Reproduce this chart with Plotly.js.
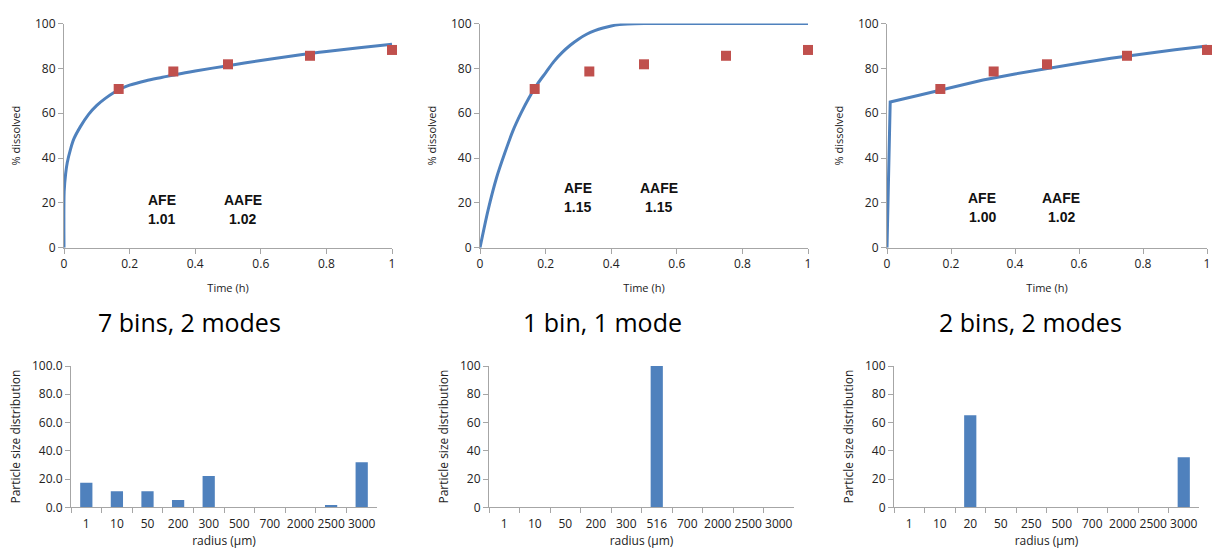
<!DOCTYPE html>
<html>
<head>
<meta charset="utf-8">
<script src="https://cdn.plot.ly/plotly-3.0.1.min.js"></script>
<style>html,body{margin:0;padding:0;background:#fff;}#chart{width:1215px;height:549px;}</style>
</head>
<body>
<div id="chart"></div>
<script>
// Observed dissolution data (same in all three panels)
const obsTime = [0.1667, 0.3333, 0.5, 0.75, 1.0];
const obsDissolved = [70.8, 78.6, 81.8, 85.6, 88.2];

// Model curve: 7 bins, 2 modes
const simTime7 = [0, 0.0005, 0.005, 0.01, 0.02, 0.03, 0.05, 0.075, 0.1, 0.125, 0.15, 0.175, 0.2, 0.25, 0.3, 0.35, 0.4, 0.5, 0.6, 0.7, 0.75, 0.8, 0.9, 1.0];
const simDiss7 = [0, 25, 33, 38, 44, 48.5, 54, 59.5, 63.5, 66.5, 69, 71, 72.5, 74.5, 76, 77.5, 78.8, 81.2, 83.5, 85.6, 86.6, 87.5, 89.2, 90.7];

// Model curve: 1 bin, 1 mode
const simTime1 = [0, 0.025, 0.05, 0.075, 0.1, 0.125, 0.15, 0.175, 0.2, 0.225, 0.25, 0.275, 0.3, 0.325, 0.35, 0.375, 0.4, 0.425, 0.45, 0.5, 0.6, 0.7, 0.8, 0.9, 1.0];
const simDiss1 = [0, 17, 31, 42, 52, 60, 67, 73, 78, 83, 87, 90.3, 93, 95.2, 96.8, 98, 98.9, 99.5, 99.8, 100, 100, 100, 100, 100, 100];

// Model curve: 2 bins, 2 modes
const simTime2 = [0, 0.01, 0.1, 0.2, 0.3, 0.4, 0.5, 0.6, 0.7, 0.8, 0.9, 1.0];
const simDiss2 = [0, 65, 68, 71.5, 74.8, 77.5, 80, 82.3, 84.5, 86.5, 88.3, 90];

// Fit statistics
const afe = ["1.01", "1.15", "1.00"];
const aafe = ["1.02", "1.15", "1.02"];
const panelLabels = ["7 bins, 2 modes", "1 bin, 1 mode", "2 bins, 2 modes"];

// Particle size distributions
const radii7 = ["1", "10", "50", "200", "300", "500", "700", "2000", "2500", "3000"];
const psd7 = [17.4, 11.3, 11.3, 5.2, 22.2, 0, 0, 0, 1.6, 31.8];
const radii1 = ["1", "10", "50", "200", "300", "516", "700", "2000", "2500", "3000"];
const psd1 = [0, 0, 0, 0, 0, 100, 0, 0, 0, 0];
const radii2 = ["1", "10", "20", "50", "250", "500", "700", "2000", "2500", "3000"];
const psd2 = [0, 0, 65.1, 0, 0, 0, 0, 0, 0, 35.4];

const W = 1215, H = 549;
const FONT = "Open Sans, Liberation Sans, sans-serif";
const BLUE = "#4F81BD", RED = "#C0504D", AX = "#A6A6A6", TXT = "#222222";

const topX = [[64, 392], [480, 808], [887, 1207]];
const botX = [[71, 377], [489, 794], [894, 1199]];
const topY = [(H - 247.7) / H, (H - 23.5) / H];
const botY = [(H - 507.3) / H, (H - 366) / H];

const sims = [[simTime7, simDiss7], [simTime1, simDiss1], [simTime2, simDiss2]];
const shapes = ["spline", "spline", "linear"];
const psds = [[radii7, psd7], [radii1, psd1], [radii2, psd2]];

const traces = [];
const layout = {
  width: W, height: H, margin: {l: 0, r: 0, t: 0, b: 0},
  paper_bgcolor: "#fff", plot_bgcolor: "#fff", showlegend: false,
  font: {family: FONT, size: 12, color: TXT},
  annotations: []
};

for (let i = 0; i < 3; i++) {
  const xa = "x" + (i + 1), ya = "y" + (i + 1);
  const xk = "xaxis" + (i === 0 ? "" : i + 1), yk = "yaxis" + (i === 0 ? "" : i + 1);
  traces.push({x: sims[i][0], y: sims[i][1], xaxis: xa, yaxis: ya, type: "scatter", mode: "lines",
    line: {color: BLUE, width: 3, shape: shapes[i], smoothing: 0.8}, hoverinfo: "skip"});
  traces.push({x: obsTime, y: obsDissolved, xaxis: xa, yaxis: ya, type: "scatter", mode: "markers",
    marker: {symbol: "square", size: 10, color: RED}, cliponaxis: false});
  layout[xk] = {domain: [topX[i][0] / W, topX[i][1] / W], anchor: ya, range: [0, 1],
    tickvals: [0, 0.2, 0.4, 0.6, 0.8, 1], ticktext: ["0", "0.2", "0.4", "0.6", "0.8", "1"],
    ticklabeloverflow: "allow",
    showline: true, linecolor: AX, linewidth: 1, ticks: "outside", ticklen: 5, tickcolor: AX,
    showgrid: false, zeroline: false, tickfont: {size: 12, color: TXT},
    title: {text: "Time (h)", font: {size: 11, color: TXT}, standoff: 13}};
  layout[yk] = {domain: topY, anchor: xa, range: [0, 100], dtick: 20,
    showline: true, linecolor: AX, linewidth: 1, ticks: "outside", ticklen: 5, tickcolor: AX,
    showgrid: false, zeroline: false, tickfont: {size: 12, color: TXT},
    title: {text: "% dissolved", font: {size: 11, color: TXT}, standoff: 12}};
  const afeX = 0.298, aafeX = 0.545;
  const yTop = [21.3, 26.5, 22.3][i], yBot = [12.8, 18, 13.8][i];
  [[afeX, yTop, "AFE"], [afeX, yBot, afe[i]], [aafeX, yTop, "AAFE"], [aafeX, yBot, aafe[i]]].forEach(a => {
    layout.annotations.push({xref: xa, yref: ya, x: a[0], y: a[1], text: "<b>" + a[2] + "</b>",
      xanchor: "center", showarrow: false,
      font: {family: "Liberation Sans, Arial, sans-serif", size: 14, color: "#111"}});
  });
  // bottom panel
  const j = i + 4;
  const bxa = "x" + j, bya = "y" + j;
  traces.push({x: psds[i][0], y: psds[i][1], xaxis: bxa, yaxis: bya, type: "bar",
    marker: {color: BLUE}, width: 0.4});
  layout["xaxis" + j] = {domain: [botX[i][0] / W, botX[i][1] / W], anchor: bya, type: "category",
    tickson: "boundaries", showline: true, linecolor: AX, linewidth: 1, ticks: "outside", ticklen: 5,
    tickcolor: AX, showgrid: false, zeroline: false, tickfont: {size: 12, color: TXT}, tickangle: 0,
    ticklabelstandoff: 5,
    title: {text: "radius (μm)", font: {size: 12, color: TXT}, standoff: 4}};
  layout["yaxis" + j] = {domain: botY, anchor: bxa, range: [0, 100], dtick: 20,
    tickformat: i === 0 ? ".1f" : "d",
    showline: true, linecolor: AX, linewidth: 1, ticks: "outside", ticklen: 5, tickcolor: AX,
    showgrid: false, zeroline: false, tickfont: {size: 12, color: TXT},
    title: {text: "Particle size distribution", font: {size: 12, color: TXT}, standoff: 8}};
  layout.annotations.push({xref: "paper", yref: "paper", x: [189, 602, 1030][i] / W, y: (H - 322) / H,
    xanchor: "center", yanchor: "middle",
    text: panelLabels[i], showarrow: false, font: {family: FONT, size: 25, color: "#000"}});
}

Plotly.newPlot("chart", traces, layout, {staticPlot: true});
</script>
</body>
</html>
